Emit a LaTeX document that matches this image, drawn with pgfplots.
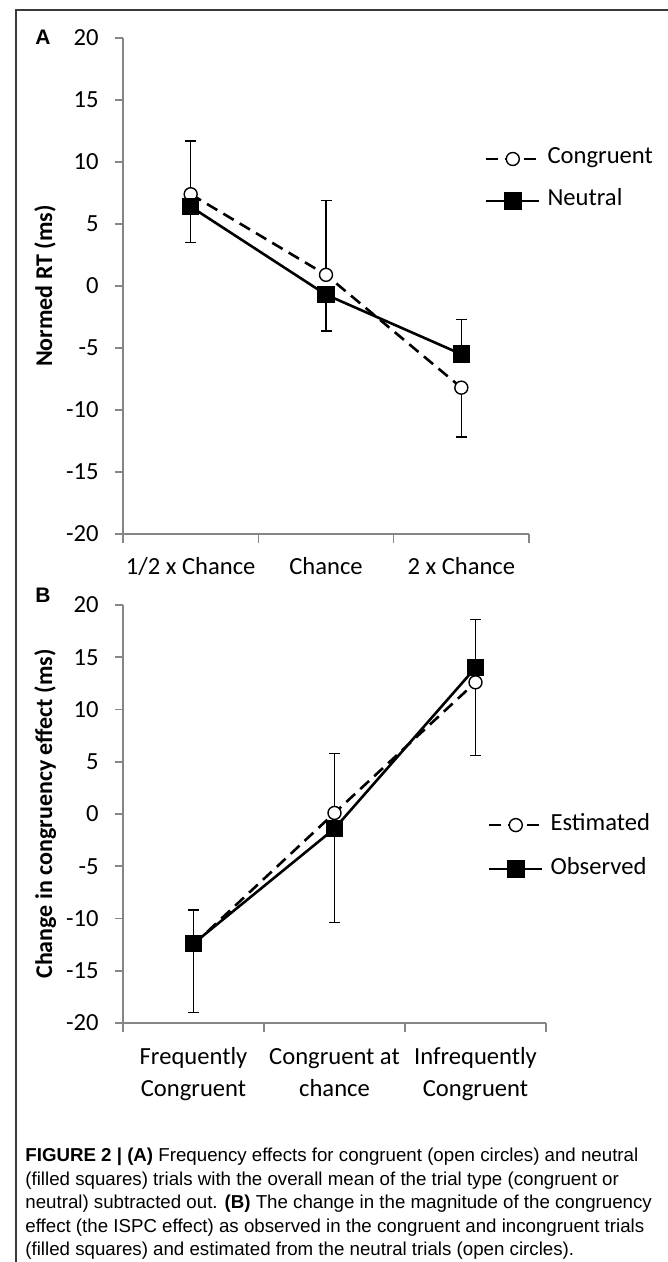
\documentclass[border=0pt]{standalone}
\usepackage{fontspec}
\setmainfont{Carlito}
\newfontfamily\arialfont{Liberation Sans}
\usepackage{pgfplots}
\pgfplotsset{compat=1.18}

\definecolor{axisgray}{HTML}{868686}
\definecolor{framegray}{HTML}{3A3A3A}

\newcommand{\capfont}{\arialfont\fontsize{9.35}{11.75}\selectfont}

\pgfplotsset{
  excelaxis/.style={
    scale only axis,
    xmin=0, xmax=3, ymin=-20, ymax=20,
    axis x line*=bottom, axis y line*=left,
    axis line style={axisgray, line width=0.8pt, -},
    tick align=outside,
    major tick length=4pt, minor tick length=4.5pt,
    ytick={-20,-15,...,20},
    xtick={0.5,1.5,2.5},
    minor xtick={0,1,2,3},
    major x tick style={draw=none},
    minor x tick style={axisgray, line width=0.8pt},
    major y tick style={axisgray, line width=0.8pt},
    tick label style={font=\fontsize{12.3}{16}\selectfont, black},
    /pgf/number format/assume math mode=true,
    yticklabel style={inner sep=0pt, anchor=east},
    yticklabel shift=8pt,
    xticklabel style={inner sep=0pt, anchor=base, align=center},
    ylabel style={anchor=center, font=\bfseries\fontsize{12}{14}\selectfont},
    legend cell align=left,
    legend image code/.code={\draw[mark repeat=2,mark phase=2,##1] plot coordinates {(0pt,0pt) (13.25pt,0pt) (26.5pt,0pt)};},
    clip=false,
  },
  dashline/.style={black, line width=1.3pt, dash pattern=on 6pt off 3.5pt,
    mark=*, mark size=3.25pt, mark options={solid, fill=white, draw=black, line width=0.7pt}},
  solidline/.style={black, line width=1.3pt,
    mark=square*, mark size=3.75pt, mark options={solid, fill=black}},
  ebar/.style={black, only marks, mark=none, forget plot,
    error bars/.cd, y dir=#1, y explicit,
    error bar style={line width=0.8pt, solid},
    error mark=-,
    error mark options={rotate=90, mark size=2.75pt, line width=0.8pt, black}},
}

\begin{document}
\begin{tikzpicture}
\path[use as bounding box] (0pt,0pt) rectangle (334pt,631pt);

% frame of the figure box
\draw[framegray, line width=1pt] (8pt,0pt) -- (8pt,626pt) -- (334pt,626pt);

% panel A
\begin{axis}[excelaxis,
    at={(61.5pt,364pt)}, anchor=south west,
    width=203pt, height=248pt,
    xticklabels={1/2 x Chance, Chance, 2 x Chance},
    xticklabel shift=16.5pt,
    ylabel={Normed RT (ms)},
    ylabel style={at={(axis description cs:-0.192,0.5)}},
    legend style={draw=none, fill=none, inner sep=0pt, outer sep=0pt,
      at={(axis description cs:0.8916,0.7137)}, anchor=west,
      row sep=10pt, column sep=3.5pt,
      nodes={inner sep=0pt, text height=8pt, text depth=3pt, font=\fontsize{12.3}{14}\selectfont}},
  ]
  % error bars going up
  \addplot[ebar=plus] coordinates {(0.5,7.4) += (0,4.3) (1.5,0.9) += (0,6.0) (2.5,-5.5) += (0,2.8)};
  % error bars going down
  \addplot[ebar=minus] coordinates {(0.5,6.4) -= (0,2.9) (1.5,-0.7) -= (0,2.95) (2.5,-8.2) -= (0,4.0)};
  % congruent
  \addplot[dashline] coordinates {(0.5,7.4) (1.5,0.9) (2.5,-8.2)};
  % neutral
  \addplot[solidline] coordinates {(0.5,6.4) (1.5,-0.7) (2.5,-5.5)};
  \legend{Congruent, Neutral}
\end{axis}

% panel B
\begin{axis}[excelaxis,
    at={(61.5pt,119.5pt)}, anchor=south west,
    width=211.5pt, height=209pt,
    xticklabels={{Frequently\\Congruent}, {Congruent at\\chance}, {Infrequently\\Congruent}},
    xticklabel shift=33pt,
    ylabel={Change in congruency effect (ms)},
    ylabel style={at={(axis description cs:-0.184,0.5)}},
    legend style={draw=none, fill=none, inner sep=0pt, outer sep=0pt,
      at={(axis description cs:0.8629,0.4208)}, anchor=west,
      row sep=11pt, column sep=3.5pt,
      nodes={inner sep=0pt, text height=8pt, text depth=3pt, font=\fontsize{12.3}{14}\selectfont}},
  ]
  \addplot[ebar=plus] coordinates {(0.5,-12.4) += (0,3.2) (1.5,0.1) += (0,5.7) (2.5,14.0) += (0,4.6)};
  \addplot[ebar=minus] coordinates {(0.5,-12.5) -= (0,6.5) (1.5,-1.4) -= (0,9.0) (2.5,12.6) -= (0,7.0)};
  % estimated
  \addplot[dashline] coordinates {(0.5,-12.5) (1.5,0.1) (2.5,12.6)};
  % observed
  \addplot[solidline] coordinates {(0.5,-12.4) (1.5,-1.4) (2.5,14.0)};
  \legend{Estimated, Observed}
\end{axis}

% panel letters
\node[font=\arialfont\bfseries\fontsize{10.5}{12}\selectfont, inner sep=0pt] at (21.5pt,612.5pt) {A};
\node[font=\arialfont\bfseries\fontsize{10.5}{12}\selectfont, inner sep=0pt] at (21.5pt,333.5pt) {B};

% caption
\node[anchor=base west, inner sep=0pt, font=\capfont] at (12.5pt,50pt) {\textbf{FIGURE 2 | (A)} Frequency effects for congruent (open circles) and neutral};
\node[anchor=base west, inner sep=0pt, font=\capfont] at (12.5pt,38.25pt) {(filled squares) trials with the overall mean of the trial type (congruent or};
\node[anchor=base west, inner sep=0pt, font=\capfont] at (12.5pt,26.5pt) {neutral) subtracted out. \textbf{(B)} The change in the magnitude of the congruency};
\node[anchor=base west, inner sep=0pt, font=\capfont] at (12.5pt,14.75pt) {effect (the ISPC effect) as observed in the congruent and incongruent trials};
\node[anchor=base west, inner sep=0pt, font=\capfont] at (12.5pt,3pt) {(filled squares) and estimated from the neutral trials (open circles).};
\end{tikzpicture}
\end{document}
